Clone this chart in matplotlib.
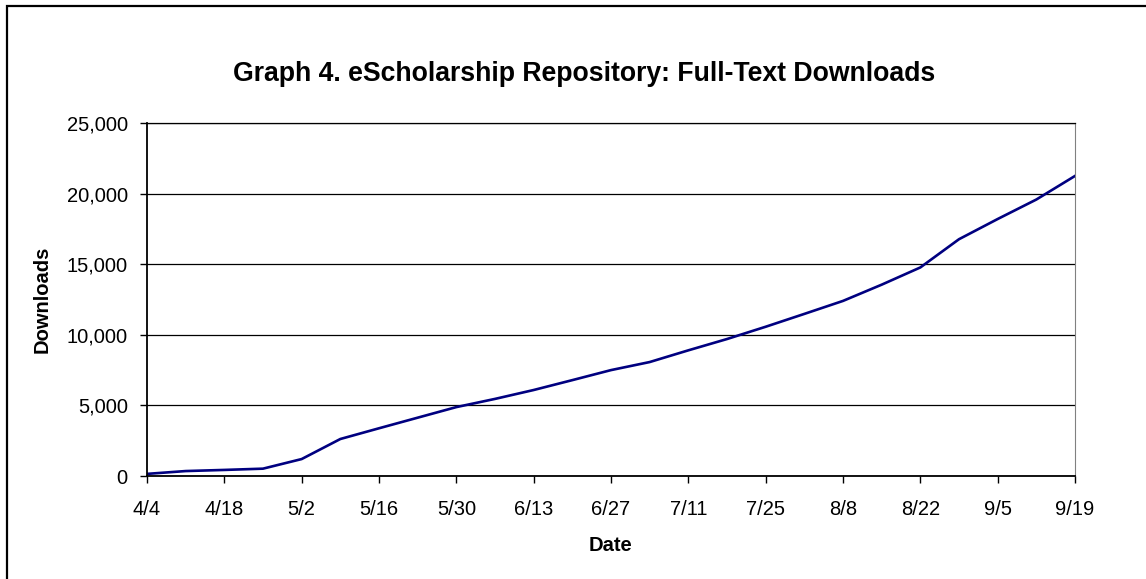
## Graph 4 - eScholarship Repository full-text downloads
import numpy as np
import matplotlib.pyplot as plt
from matplotlib.patches import Rectangle

# weekly dates 4/4 .. 9/19
dates = ['4/4', '4/11', '4/18', '4/25', '5/2', '5/9', '5/16', '5/23', '5/30',
         '6/6', '6/13', '6/20', '6/27', '7/4', '7/11', '7/18', '7/25',
         '8/1', '8/8', '8/15', '8/22', '8/29', '9/5', '9/12', '9/19']
downloads = [150, 350, 430, 520, 1200, 2620, 3380, 4130, 4880,
             5460, 6090, 6790, 7500, 8070, 8900, 9700, 10570,
             11480, 12400, 13550, 14770, 16770, 18200, 19580, 21250]
yticks = [0, 5000, 10000, 15000, 20000, 25000]

plt.rcParams['font.family'] = ['Liberation Sans', 'DejaVu Sans']

fig = plt.figure(figsize=(11.46, 5.79), dpi=100)
ax = fig.add_axes([147/1146, 1 - 476/579, 928/1146, 353/579])

x = np.arange(len(dates))
ax.plot(x, downloads, color='#000080', linewidth=1.9)

ax.set_xlim(0, len(dates) - 1)
ax.set_ylim(0, 25000)
ax.set_xticks(x[::2])
ax.set_xticklabels(dates[::2])
ax.set_yticks(yticks)
ax.set_yticklabels(['{:,}'.format(v) for v in yticks])
ax.yaxis.grid(True, color='black', linewidth=0.9)
ax.set_axisbelow(True)

ax.tick_params(direction='out', length=5, width=1, labelsize=14.5, colors='black')
ax.tick_params(axis='x', pad=12.4)
ax.tick_params(axis='y', pad=8.8)
for s in ['left', 'bottom']:
    ax.spines[s].set_linewidth(1.3)
ax.spines['right'].set_color('#808080')
ax.spines['top'].set_color('black')
ax.spines['top'].set_linewidth(0.9)

ax.set_xlabel('Date', fontsize=14.5, fontweight='bold', labelpad=12)
ax.set_ylabel('Downloads', fontsize=14.5, fontweight='bold', labelpad=11)
fig.text(584/1146, 1 - 74/579, 'Graph 4. eScholarship Repository: Full-Text Downloads',
         ha='center', va='center', fontsize=19.2, fontweight='bold')

# outer frame (right and bottom edges fall outside the picture)
fig.patches.append(Rectangle((7/1146, -0.05), 1.1, 1.05 - 6/579,
                             transform=fig.transFigure, fill=False,
                             edgecolor='black', linewidth=1.6))

fig.savefig('out.png', dpi=100)
